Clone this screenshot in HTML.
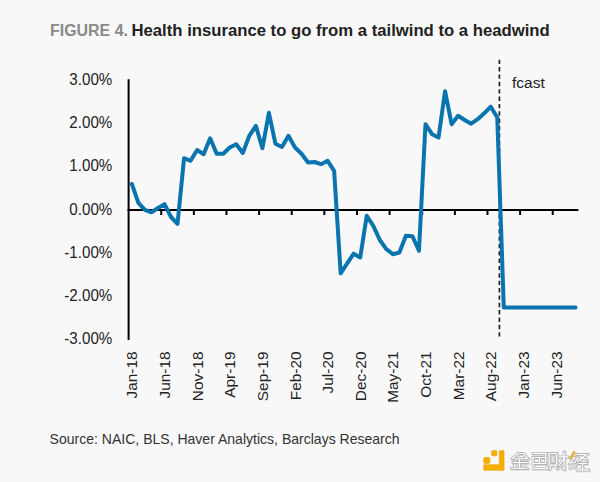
<!DOCTYPE html>
<html><head><meta charset="utf-8"><style>
html,body{margin:0;padding:0;}
body{width:600px;height:482px;background:#f8f8f8;overflow:hidden;position:relative;}
svg{position:absolute;left:0;top:0;}
text{font-family:"Liberation Sans",sans-serif;}
</style></head><body>
<svg width="600" height="482" viewBox="0 0 600 482">
<g font-size="17.4" font-weight="bold">
<text x="50" y="36" fill="#8a8a8a" textLength="78" lengthAdjust="spacingAndGlyphs">FIGURE 4.</text>
<text x="131.5" y="36" fill="#222" textLength="418.2" lengthAdjust="spacingAndGlyphs">Health insurance to go from a tailwind to a headwind</text>
</g>
<g stroke="#000" stroke-width="2" fill="none">
<line x1="128.6" y1="79.3" x2="128.6" y2="340"/>
<line x1="127.6" y1="210" x2="578.4" y2="210"/>
<line x1="161.22" y1="210" x2="161.22" y2="215"/><line x1="193.85" y1="210" x2="193.85" y2="215"/><line x1="226.47" y1="210" x2="226.47" y2="215"/><line x1="259.10" y1="210" x2="259.10" y2="215"/><line x1="291.73" y1="210" x2="291.73" y2="215"/><line x1="324.35" y1="210" x2="324.35" y2="215"/><line x1="356.98" y1="210" x2="356.98" y2="215"/><line x1="389.60" y1="210" x2="389.60" y2="215"/><line x1="422.23" y1="210" x2="422.23" y2="215"/><line x1="454.85" y1="210" x2="454.85" y2="215"/><line x1="487.48" y1="210" x2="487.48" y2="215"/><line x1="520.10" y1="210" x2="520.10" y2="215"/><line x1="552.73" y1="210" x2="552.73" y2="215"/>
</g>
<line x1="499.4" y1="59.7" x2="499.4" y2="337" stroke="#222" stroke-width="1.7" stroke-dasharray="4.4 2.965"/>
<polyline points="131.86,184.00 138.39,202.80 144.91,209.80 151.44,212.30 157.96,208.00 164.49,204.20 171.01,217.00 177.54,223.80 184.06,158.20 190.59,160.80 197.11,150.00 203.64,154.20 210.16,138.30 216.69,153.70 223.21,153.70 229.74,147.50 236.26,144.20 242.79,153.00 249.31,135.80 255.84,125.80 262.36,148.30 268.89,112.80 275.41,143.70 281.94,147.00 288.46,135.80 294.99,147.50 301.51,153.70 308.04,162.50 314.56,162.00 321.09,164.20 327.61,160.80 334.14,170.80 340.66,273.30 347.19,263.30 353.71,253.70 360.24,257.50 366.76,215.80 373.29,225.80 379.81,240.00 386.34,249.20 392.86,254.20 399.39,252.50 405.91,235.80 412.44,236.30 418.96,250.80 425.49,124.20 432.01,134.20 438.54,137.50 445.06,91.20 451.59,124.20 458.11,115.80 464.64,120.00 471.16,123.70 477.69,119.20 484.21,113.30 490.74,106.70 497.26,117.50 503.79,307.40 510.31,307.40 516.84,307.40 523.36,307.40 529.89,307.40 536.41,307.40 542.94,307.40 549.46,307.40 555.99,307.40 562.51,307.40 569.04,307.40 575.56,307.40" fill="none" stroke="#0a74ae" stroke-width="4" stroke-linejoin="round" stroke-linecap="round"/>
<g font-size="16.3" fill="#222">
<text transform="translate(112.3,85.10) scale(0.93,1)" text-anchor="end">3.00%</text><text transform="translate(112.3,128.29) scale(0.93,1)" text-anchor="end">2.00%</text><text transform="translate(112.3,171.48) scale(0.93,1)" text-anchor="end">1.00%</text><text transform="translate(112.3,214.67) scale(0.93,1)" text-anchor="end">0.00%</text><text transform="translate(112.3,257.86) scale(0.93,1)" text-anchor="end">-1.00%</text><text transform="translate(112.3,301.05) scale(0.93,1)" text-anchor="end">-2.00%</text><text transform="translate(112.3,344.24) scale(0.93,1)" text-anchor="end">-3.00%</text>
</g>
<g font-size="15.4" fill="#222">
<text transform="translate(137.46,351.5) rotate(-90)" text-anchor="end">Jan-18</text><text transform="translate(170.09,351.5) rotate(-90)" text-anchor="end">Jun-18</text><text transform="translate(202.71,351.5) rotate(-90)" text-anchor="end">Nov-18</text><text transform="translate(235.34,351.5) rotate(-90)" text-anchor="end">Apr-19</text><text transform="translate(267.96,351.5) rotate(-90)" text-anchor="end">Sep-19</text><text transform="translate(300.59,351.5) rotate(-90)" text-anchor="end">Feb-20</text><text transform="translate(333.21,351.5) rotate(-90)" text-anchor="end">Jul-20</text><text transform="translate(365.84,351.5) rotate(-90)" text-anchor="end">Dec-20</text><text transform="translate(398.46,351.5) rotate(-90)" text-anchor="end">May-21</text><text transform="translate(431.09,351.5) rotate(-90)" text-anchor="end">Oct-21</text><text transform="translate(463.71,351.5) rotate(-90)" text-anchor="end">Mar-22</text><text transform="translate(496.34,351.5) rotate(-90)" text-anchor="end">Aug-22</text><text transform="translate(528.96,351.5) rotate(-90)" text-anchor="end">Jan-23</text><text transform="translate(561.59,351.5) rotate(-90)" text-anchor="end">Jun-23</text>
</g>
<text x="512" y="88.3" font-size="15.5" fill="#222">fcast</text>
<text x="49.6" y="444.4" font-size="14.6" fill="#333" textLength="350" lengthAdjust="spacingAndGlyphs">Source: NAIC, BLS, Haver Analytics, Barclays Research</text>
<g fill="#f7b000" stroke="#eaa200" stroke-width="0.7">
<rect x="491.6" y="450.7" width="5.3" height="5" rx="0.8"/>
<rect x="483.8" y="457.6" width="6" height="5.8" rx="1.2"/>
<path d="M499.4 450.7 H504 V470.2 H483.8 V464.8 H499.4 Z" stroke-linejoin="round"/>
</g>

<defs>
<g id="c1"><path d="M1 6.5 L7 1.5 H12 L17 6.5 M3.5 6.75 H15.5 M2 10.5 H16 M8.5 6.75 V16 M3.6 12.8 L4.1 14.8 M13 12.8 L12.5 14.8 M0.5 16.25 H16"/></g>
<g id="c2"><path d="M1.5 1.3 H14.2 V11.5 M1.5 5.5 H14.2 M1.5 5.5 V16.3 H15.8 V14 M1.5 11.5 H14.2 M7.9 5.5 V11.5"/></g>
<g id="c3"><path d="M0.6 1.5 H8.2 V13 H0.6 Z M4.4 4 V10 M3 13 L0.8 17 M6 13 L8.8 16.5 M10.5 4.8 H18.8 M15.6 0 V17 L14 16.2 M15.6 6.5 L10.5 13.5"/></g>
<g id="c4"><path d="M2 6 L5.5 5.5 L1.5 11 L6.5 10 M1 16 L6.5 14 M8 2.5 H17 L10.5 8 M11 4.5 L18 8 M9.5 11.5 H17.5 M13.5 11.5 V17.5 M8 17.8 H19.3"/></g>
<g id="c4o"><path d="M4.8 0.5 L2 6"/></g>
</defs>
<g fill="none" stroke-linecap="square" stroke-linejoin="miter">
<g stroke="#d6d6d6" stroke-width="3.2" transform="translate(0.8,0.8)">
<use href="#c1" x="511" y="452"/><use href="#c2" x="531.5" y="452"/><use href="#c3" x="548.5" y="452"/><use href="#c4" x="569" y="452"/><use href="#c4o" x="569" y="452"/>
</g>
<g stroke="#b4b4b4" stroke-width="2.8">
<use href="#c1" x="511" y="452"/><use href="#c2" x="531.5" y="452"/><use href="#c3" x="548.5" y="452"/><use href="#c4" x="569" y="452"/>
</g>
<g stroke="#ffffff" stroke-width="1.2">
<use href="#c1" x="511" y="452"/><use href="#c2" x="531.5" y="452"/><use href="#c3" x="548.5" y="452"/><use href="#c4" x="569" y="452"/>
</g>
<use href="#c4o" x="569" y="452" stroke="#f0b030" stroke-width="2.6"/>
</g>
</svg>
</body></html>
